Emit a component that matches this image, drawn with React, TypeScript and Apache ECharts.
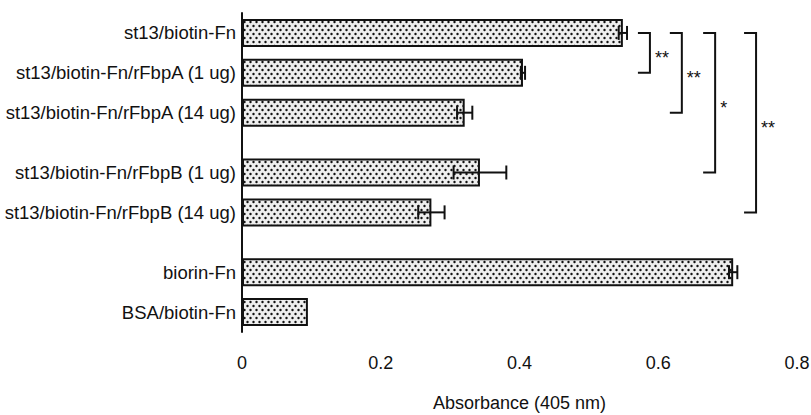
import React, { useEffect, useRef } from "react";
import * as echarts from "echarts";

const categories = [
  "st13/biotin-Fn",
  "st13/biotin-Fn/rFbpA (1 ug)",
  "st13/biotin-Fn/rFbpA (14 ug)",
  "st13/biotin-Fn/rFbpB (1 ug)",
  "st13/biotin-Fn/rFbpB (14 ug)",
  "biorin-Fn",
  "BSA/biotin-Fn",
];
const absorbance = [0.549, 0.405, 0.321, 0.343, 0.273, 0.708, 0.095];
const errors = [0.006, 0.003, 0.011, 0.038, 0.019, 0.006, 0];
const groupSizes = [3, 2, 2];

// significance brackets: from bar 0 to bar `bracketTo`
const bracketTo = [1, 2, 3, 4];
const bracketX = [0.588, 0.634, 0.682, 0.741];
const bracketMarks = ["**", "**", "*", "**"];

const xTicks = [0, 0.2, 0.4, 0.6, 0.8];
const xTitle = "Absorbance (405 nm)";

const FONT = "'Liberation Sans', Arial, Helvetica, sans-serif";

function buildSlots() {
  const slots: string[] = [""];
  const slotOf: number[] = [];
  let k = 0;
  groupSizes.forEach((size, g) => {
    if (g > 0) slots.push("");
    for (let i = 0; i < size; i++) {
      slotOf.push(slots.length);
      slots.push(categories[k]);
      slots.push("");
      k++;
    }
  });
  return { slots, slotOf };
}

function makePattern() {
  const c = document.createElement("canvas");
  c.width = 6;
  c.height = 8;
  const ctx = c.getContext("2d")!;
  ctx.fillStyle = "#eeeeee";
  ctx.fillRect(0, 0, 6, 8);
  ctx.fillStyle = "#111111";
  const dots = [
    [1.5, 2],
    [4.5, 6],
  ];
  dots.forEach(([x, y]) => {
    ctx.beginPath();
    ctx.arc(x, y, 1.2, 0, Math.PI * 2);
    ctx.fill();
  });
  return c;
}

export default function App() {
  const ref = useRef<HTMLDivElement>(null);
  useEffect(() => {
    document.body.style.margin = "0";
    const chart = echarts.init(ref.current!, undefined, { renderer: "svg" });
    const { slots, slotOf } = buildSlots();
    const barData = slots.map(() => "-" as any);
    slotOf.forEach((s, i) => (barData[s] = absorbance[i]));
    const errData = absorbance
      .map((v, i) => [v, slotOf[i], errors[i]])
      .filter((d) => d[2] > 0);
    const bracketData = bracketTo.map((t, i) => [bracketX[i], slotOf[0], slotOf[t]]);
    const pattern = makePattern();

    chart.setOption({
      animation: false,
      grid: {
        left: 242,
        right: 14,
        top: 13,
        bottom: 83,
        containLabel: false,
        outerBoundsMode: "none",
      },
      xAxis: {
        type: "value",
        min: xTicks[0],
        max: xTicks[xTicks.length - 1],
        interval: 0.2,
        name: xTitle,
        nameLocation: "middle",
        nameGap: 62,
        nameTextStyle: { color: "#111", fontSize: 18, fontFamily: FONT },
        splitLine: { show: false },
        axisLine: { lineStyle: { color: "#111", width: 2 } },
        axisTick: { length: 10, lineStyle: { color: "#111", width: 2 } },
        axisLabel: { color: "#111", fontSize: 18, fontFamily: FONT, margin: 22 },
      },
      yAxis: {
        type: "category",
        inverse: true,
        boundaryGap: false,
        data: slots,
        axisLine: { lineStyle: { color: "#111", width: 2 } },
        axisTick: { show: false },
        splitLine: { show: false },
        axisLabel: { color: "#111", fontSize: 18.5, fontFamily: FONT, margin: 6, interval: 0 },
      },
      series: [
        {
          type: "bar",
          data: barData,
          barWidth: 28,
          itemStyle: {
            color: { image: pattern, repeat: "repeat" },
            borderColor: "#111",
            borderWidth: 2,
          },
          z: 2,
        },
        {
          type: "custom",
          data: errData,
          encode: { x: 0, y: 1 },
          z: 5,
          clip: false,
          renderItem: (params: any, api: any) => {
            const v = api.value(0);
            const idx = api.value(1);
            const e = api.value(2);
            const lo = api.coord([v - e, idx]);
            const hi = api.coord([v + e, idx]);
            const h = 7;
            const st = { stroke: "#111", lineWidth: 2 };
            return {
              type: "group",
              children: [
                { type: "line", shape: { x1: lo[0], y1: lo[1], x2: hi[0], y2: hi[1] }, style: st },
                { type: "line", shape: { x1: lo[0], y1: lo[1] - h, x2: lo[0], y2: lo[1] + h }, style: st },
                { type: "line", shape: { x1: hi[0], y1: hi[1] - h, x2: hi[0], y2: hi[1] + h }, style: st },
              ],
            };
          },
        },
        {
          type: "custom",
          data: bracketData,
          encode: { x: 0, y: 1 },
          z: 5,
          clip: false,
          renderItem: (params: any, api: any) => {
            const x = api.value(0);
            const a = api.coord([x, api.value(1)]);
            const b = api.coord([x, api.value(2)]);
            const arm = 12;
            return {
              type: "group",
              children: [
                {
                  type: "polyline",
                  shape: { points: [[a[0] - arm, a[1]], [a[0], a[1]], [b[0], b[1]], [b[0] - arm, b[1]]] },
                  style: { stroke: "#111", lineWidth: 2, fill: "none" },
                },
                {
                  type: "text",
                  x: a[0] + 5,
                  y: (a[1] + b[1]) / 2 + 5,
                  style: {
                    text: bracketMarks[params.dataIndex],
                    fill: "#111",
                    fontSize: 18,
                    fontFamily: FONT,
                    verticalAlign: "middle",
                    align: "left",
                  },
                },
              ],
            };
          },
        },
      ],
    });
    return () => chart.dispose();
  }, []);
  return <div ref={ref} style={{ width: 811, height: 415 }} />;
}
